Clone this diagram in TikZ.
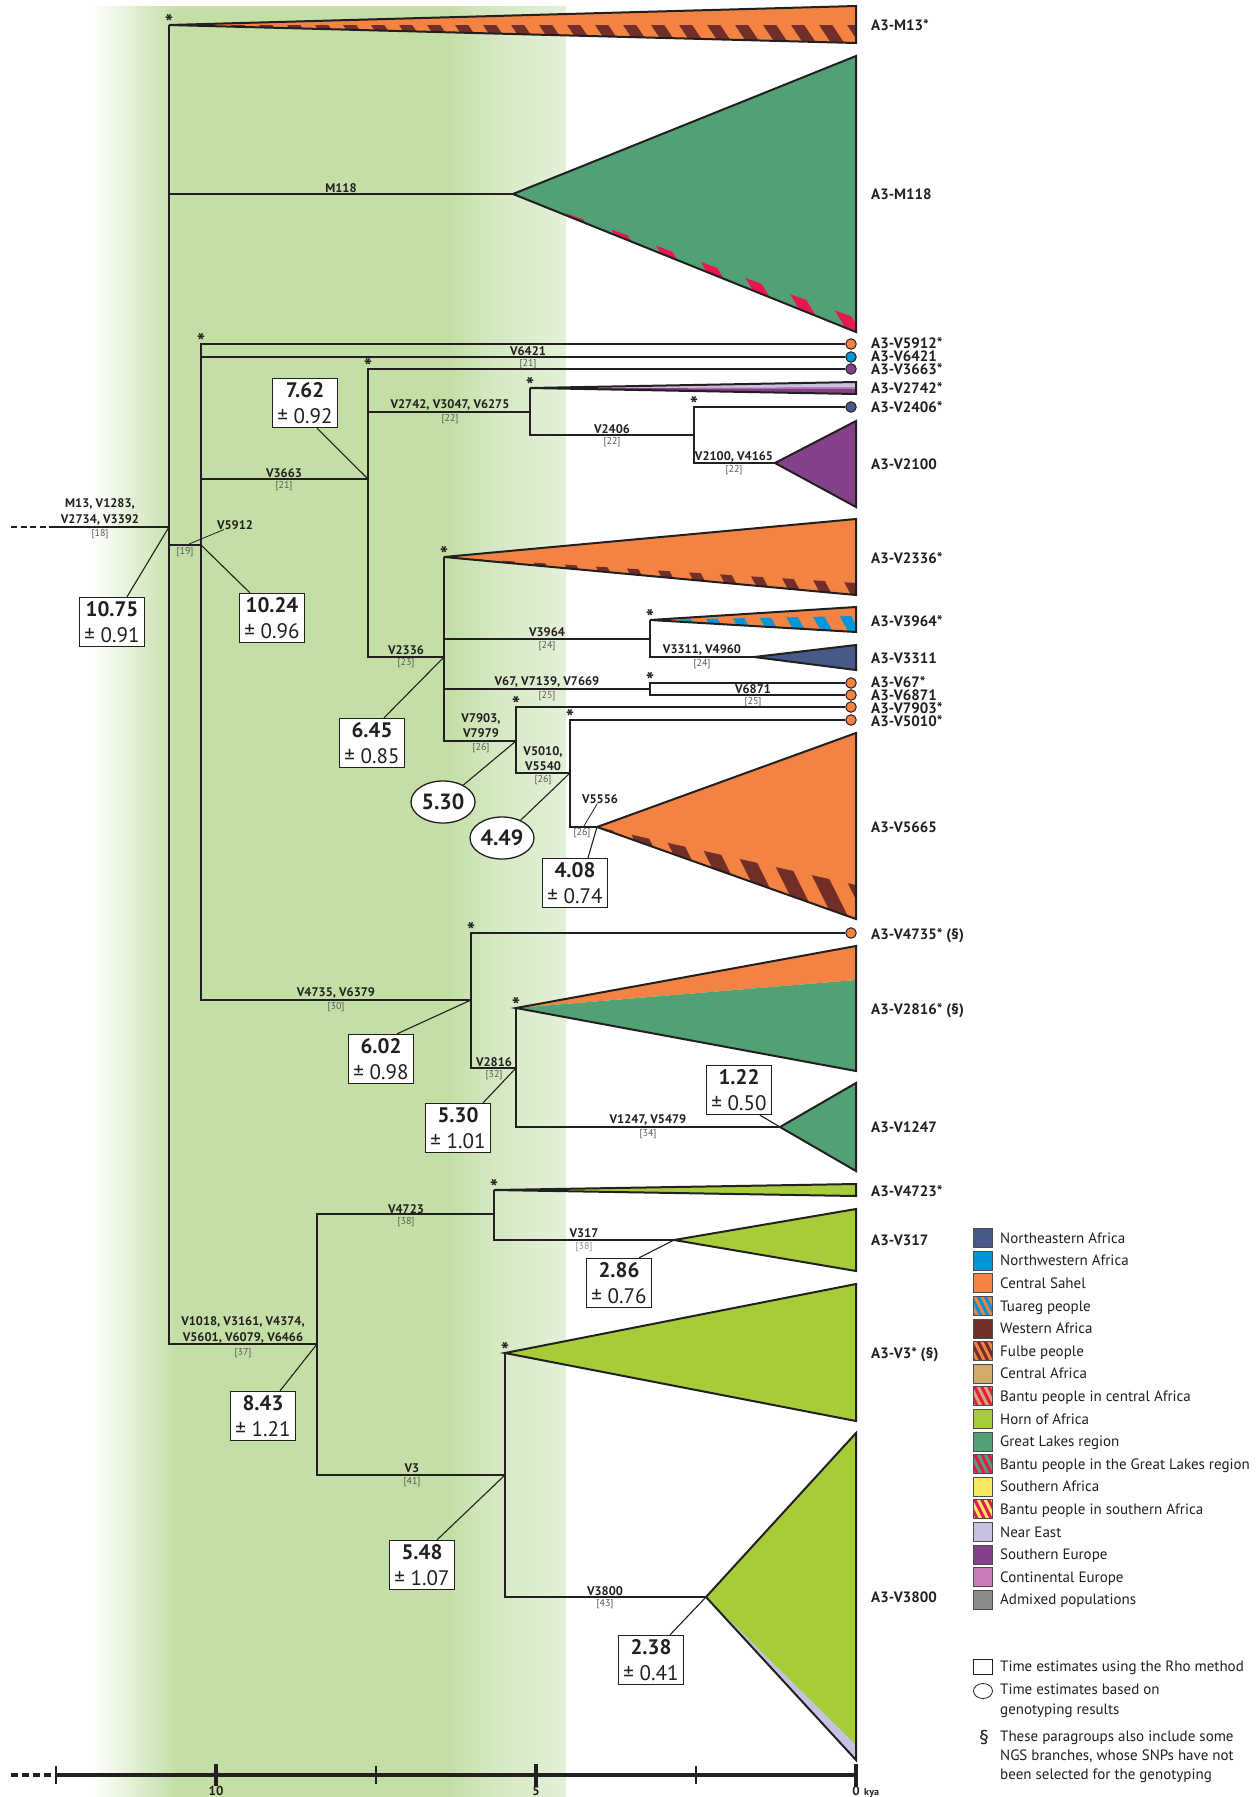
\documentclass[tikz,border=0pt]{standalone}
\usepackage{fontspec}
\setmainfont{PT Sans}
\usetikzlibrary{shapes.geometric,calc}
\definecolor{cne}{RGB}{71,90,135}
\definecolor{cnw}{RGB}{0,149,217}
\definecolor{csahel}{RGB}{243,131,67}
\definecolor{cwest}{RGB}{114,47,42}
\definecolor{ccentral}{RGB}{210,170,106}
\definecolor{cred}{RGB}{232,23,79}
\definecolor{chorn}{RGB}{166,205,57}
\definecolor{clakes}{RGB}{82,161,117}
\definecolor{csouth}{RGB}{248,233,97}
\definecolor{cneareast}{RGB}{197,195,224}
\definecolor{cseur}{RGB}{132,65,138}
\definecolor{cceur}{RGB}{199,124,184}
\definecolor{cadmix}{RGB}{140,140,140}
\definecolor{gfull}{RGB}{195,223,166}
\definecolor{glite1}{RGB}{210,231,190}
\definecolor{glite2}{RGB}{228,241,218}
\definecolor{ink}{RGB}{35,31,32}
\newcommand{\legitem}[4]{%
  \node[legsq, fill=#3] (sq#1) at (982.5,#2) {};
  \node[legtxt] (lt#1) at (1000,#2) {#4};}
\newcommand{\leghatch}[5]{%
  \begin{scope}
    \clip (973,#2-9.5) rectangle (992,#2+9.5);
    \fill[#3] (973,#2-9.5) rectangle (992,#2+9.5);
    \foreach \i in {-4,...,4} \draw[#4, line width=3] ({976+\i*7},#2-14) -- ++(14,28);
  \end{scope}
  \node[legsq] (sq#1) at (982.5,#2) {};
  \node[legtxt] (lt#1) at (1000,#2) {#5};}
\begin{document}
\begin{tikzpicture}[x=1pt,y=-1pt,
  br/.style={draw=ink, line width=2.4},
  outl/.style={draw=ink, line width=2, line join=miter},
  lead/.style={draw=ink, line width=1.1},
  tipdot/.style={circle, draw=ink, line width=1, minimum size=10.5, inner sep=0},
  clab/.style={anchor=west, inner sep=0, font=\bfseries\fontsize{15}{15}\selectfont, text=ink, text height=10.5pt, text depth=0pt},
  blab/.style={inner sep=0, font=\bfseries\fontsize{12.5}{13}\selectfont, text=ink, text height=8.75pt, text depth=0pt},
  refl/.style={inner sep=0, font=\fontsize{10}{10}\selectfont, text=black!65, text height=7pt, text depth=0pt},
  astk/.style={anchor=base, inner sep=0, font=\bfseries\fontsize{22}{22}\selectfont, text=ink},
  datebox/.style={draw=ink, fill=white, line width=1.3, minimum width=65, minimum height=49, inner sep=0, align=center, font=\fontsize{21}{26}\selectfont, text=ink},
  ellbox/.style={ellipse, draw=ink, fill=white, line width=1.3, minimum width=64, minimum height=42, inner sep=0, font=\bfseries\fontsize{22}{22}\selectfont, text=ink},
  legsq/.style={draw=black!70, line width=0.8, minimum size=19, inner sep=0},
  legtxt/.style={anchor=west, inner sep=0, font=\fontsize{15}{15}\selectfont, text=ink, text height=10.5pt, text depth=0pt},
  axlab/.style={anchor=base, inner sep=0, font=\bfseries\fontsize{13}{13}\selectfont, text=ink},
]
\useasboundingbox (0,0) rectangle (1260,1797);
\fill[white] (0,0) rectangle (1260,1797);
% ---------- green background ----------
\shade[left color=white, right color=gfull] (92,6) rectangle (176,1797);
\fill[gfull] (175,6) rectangle (451,1797);
\shade[left color=gfull, right color=glite1] (450,6) rectangle (486,1797);
\shade[left color=glite1, right color=glite2] (485,6) rectangle (566,1797);
% ---------- coordinates ----------
\coordinate (stem0) at (11,527);
\coordinate (stemA) at (54,527);
\coordinate (R) at (169,527);
\coordinate (N19) at (201,545);
\coordinate (N21) at (368,479);
\coordinate (N22) at (530,412);
\coordinate (N22b) at (694,435);
\coordinate (N23) at (444,657);
\coordinate (N24) at (650,639);
\coordinate (N25) at (650,689);
\coordinate (N26) at (516,741);
\coordinate (N26b) at (570,773);
\coordinate (N30) at (471,1000);
\coordinate (N32) at (516,1068);
\coordinate (N37) at (317,1344);
\coordinate (N38) at (494,1214);
\coordinate (N41) at (505,1475);
\coordinate (aM13) at (169,25);
\coordinate (aM118) at (513,194);
\coordinate (aV2742) at (530,388);
\coordinate (aV2100) at (775,463);
\coordinate (aV2336) at (444,557);
\coordinate (aV3964) at (650,620);
\coordinate (aV3311) at (754,657);
\coordinate (aV5665) at (597,827);
\coordinate (aV2816) at (516,1008);
\coordinate (aV1247) at (780,1127);
\coordinate (aV4723) at (494,1190);
\coordinate (aV317) at (674,1240);
\coordinate (aV3) at (505,1353);
\coordinate (aV3800) at (706,1597);
% ---------- triangles ----------
% M13
\fill[csahel] (aM13) -- (856,6) -- (856,43) -- cycle;
\begin{scope}
  \clip (aM13) -- (856,25) -- (856,43) -- cycle;
  \foreach \i in {0,...,25} \draw[cwest, line width=11] ({175+\i*28},15) -- ++(24,36);
\end{scope}
\draw[outl] (aM13) -- (856,6) -- (856,43) -- cycle;
% M118
\fill[clakes] (aM118) -- (856,56) -- (856,332) -- cycle;
\begin{scope}
  \clip (aM118) -- (856,318) -- (856,332) -- cycle;
  \foreach \i in {0,...,16} \draw[cred, line width=11] ({430+\i*35},150) -- ++(120,200);
\end{scope}
\draw[outl] (aM118) -- (856,56) -- (856,332) -- cycle;
% V2742
\fill[cneareast] (aV2742) -- (856,382) -- (856,387) -- cycle;
\fill[cceur] (aV2742) -- (856,387) -- (856,388.5) -- cycle;
\fill[cseur] (aV2742) -- (856,388.5) -- (856,394) -- cycle;
\draw[outl] (aV2742) -- (856,382) -- (856,394) -- cycle;
% V2100
\fill[cseur] (aV2100) -- (856,421) -- (856,507) -- cycle;
\draw[outl] (aV2100) -- (856,421) -- (856,507) -- cycle;
% V2336
\fill[csahel] (aV2336) -- (856,519) -- (856,595) -- cycle;
\begin{scope}
  \clip (aV2336) -- (856,583) -- (856,595) -- cycle;
  \foreach \i in {0,...,15} \draw[cwest, line width=10] ({440+\i*30},545) -- ++(32,60);
\end{scope}
\draw[outl] (aV2336) -- (856,519) -- (856,595) -- cycle;
% V3964
\fill[csahel] (aV3964) -- (856,607) -- (856,632) -- cycle;
\begin{scope}
  \clip (aV3964) -- (856,616) -- (856,632) -- cycle;
  \foreach \i in {0,...,9} \draw[cnw, line width=10] ({650+\i*27},605) -- ++(20,35);
\end{scope}
\draw[outl] (aV3964) -- (856,607) -- (856,632) -- cycle;
% V3311
\fill[cne] (aV3311) -- (856,645) -- (856,670) -- cycle;
\draw[outl] (aV3311) -- (856,645) -- (856,670) -- cycle;
% V5665
\fill[csahel] (aV5665) -- (856,733) -- (856,919) -- cycle;
\begin{scope}
  \clip (aV5665) -- (856,885) -- (856,919) -- cycle;
  \foreach \i in {0,...,9} \draw[cwest, line width=14] ({600+\i*32},820) -- ++(55,110);
\end{scope}
\draw[outl] (aV5665) -- (856,733) -- (856,919) -- cycle;
% V2816
\fill[csahel] (aV2816) -- (856,946) -- (856,980) -- cycle;
\fill[clakes] (aV2816) -- (856,980) -- (856,1071) -- cycle;
\draw[outl] (aV2816) -- (856,946) -- (856,1071) -- cycle;
% V1247
\fill[clakes] (aV1247) -- (856,1083) -- (856,1171) -- cycle;
\draw[outl] (aV1247) -- (856,1083) -- (856,1171) -- cycle;
% V4723
\fill[chorn] (aV4723) -- (856,1184) -- (856,1196) -- cycle;
\draw[outl] (aV4723) -- (856,1184) -- (856,1196) -- cycle;
% V317
\fill[chorn] (aV317) -- (856,1209) -- (856,1271) -- cycle;
\draw[outl] (aV317) -- (856,1209) -- (856,1271) -- cycle;
% V3
\fill[chorn] (aV3) -- (856,1284) -- (856,1421) -- cycle;
\draw[outl] (aV3) -- (856,1284) -- (856,1421) -- cycle;
% V3800
\fill[chorn] (aV3800) -- (856,1433) -- (856,1760) -- cycle;
\fill[cneareast] (aV3800) -- (856,1745) -- (856,1760) -- cycle;
\draw[outl] (aV3800) -- (856,1433) -- (856,1760) -- cycle;
% ---------- tip circles ----------
\node[tipdot, fill=csahel] (tV5912) at (851,344) {};
\node[tipdot, fill=cnw] (tV6421) at (851,357) {};
\node[tipdot, fill=cseur] (tV3663) at (851,369) {};
\node[tipdot, fill=cne] (tV2406) at (851,407) {};
\node[tipdot, fill=csahel] (tV67) at (851,683) {};
\node[tipdot, fill=csahel] (tV6871) at (851,695) {};
\node[tipdot, fill=csahel] (tV7903) at (851,707) {};
\node[tipdot, fill=csahel] (tV5010) at (851,720) {};
\node[tipdot, fill=csahel] (tV4735) at (851,933) {};
% ---------- branches ----------
\draw[br, dash pattern=on 6 off 3.5] (stem0) -- (stemA);
\draw[br] (stemA) -- (R);
\draw[br] (R) |- (aM13);
\draw[br] (R) |- (aM118);
\draw[br] (R) |- (N19);
\draw[br] (R) |- (N37);
\draw[br] (N19) |- (tV5912);
\draw[br] (N19) |- (tV6421);
\draw[br] (N19) |- (N21);
\draw[br] (N19) |- (N30);
\draw[br] (N21) |- (tV3663);
\draw[br] (N21) |- (N22);
\draw[br] (N21) |- (N23);
\draw[br] (N22) |- (aV2742);
\draw[br] (N22) |- (N22b);
\draw[br] (N22b) |- (tV2406);
\draw[br] (N22b) |- (aV2100);
\draw[br] (N23) |- (aV2336);
\draw[br] (N23) |- (N24);
\draw[br] (N23) |- (N25);
\draw[br] (N23) |- (N26);
\draw[br] (N24) |- (aV3964);
\draw[br] (N24) |- (aV3311);
\draw[br] (N25) |- (tV67);
\draw[br] (N25) |- (tV6871);
\draw[br] (N26) |- (tV7903);
\draw[br] (N26) |- (N26b);
\draw[br] (N26b) |- (tV5010);
\draw[br] (N26b) |- (aV5665);
\draw[br] (N30) |- (tV4735);
\draw[br] (N30) |- (N32);
\draw[br] (N32) |- (aV2816);
\draw[br] (N32) |- (aV1247);
\draw[br] (N37) |- (N38);
\draw[br] (N37) |- (N41);
\draw[br] (N38) |- (aV4723);
\draw[br] (N38) |- (aV317);
\draw[br] (N41) |- (aV3);
\draw[br] (N41) |- (aV3800);
% ---------- asterisks ----------
\node[astk] (s1) at (169,30) {*};
\node[astk] (s2) at (201,349) {*};
\node[astk] (s3) at (368,374) {*};
\node[astk] (s4) at (530,393) {*};
\node[astk] (s5) at (694,412) {*};
\node[astk] (s6) at (444,562) {*};
\node[astk] (s7) at (650,625) {*};
\node[astk] (s8) at (650,688) {*};
\node[astk] (s9) at (516,712) {*};
\node[astk] (s10) at (570,725) {*};
\node[astk] (s11) at (471,938) {*};
\node[astk] (s12) at (516,1013) {*};
\node[astk] (s13) at (494,1195) {*};
\node[astk] (s14) at (505,1358) {*};
% ---------- branch labels ----------
\node[blab] (lbRa) at (100,503) {M13, V1283,};
\node[blab] (lbRb) at (100,519) {V2734, V3392};
\node[refl] (rfR) at (100,533) {[18]};
\node[blab] (lbV5912) at (235,525) {V5912};
\node[refl] (rfV5912) at (185,551) {[19]};
\coordinate (v5912a) at (189,544);
\draw[lead, line width=0.8] (v5912a) -- (lbV5912);
\node[blab] (lbM118) at (341,188) {M118};
\node[blab] (lbV6421) at (528,351) {V6421};
\node[refl] (rfV6421) at (528,363) {[21]};
\node[blab] (lbV3663) at (284,473) {V3663};
\node[refl] (rfV3663) at (284,485) {[21]};
\node[blab] (lbV2742) at (450,404) {V2742, V3047, V6275};
\node[refl] (rfV2742) at (450,418) {[22]};
\node[blab] (lbV2406) at (612,429) {V2406};
\node[refl] (rfV2406) at (612,441) {[22]};
\node[blab] (lbV2100) at (734,456) {V2100, V4165};
\node[refl] (rfV2100) at (734,469) {[22]};
\node[blab] (lbV2336) at (406,650) {V2336};
\node[refl] (rfV2336) at (406,662) {[23]};
\node[blab] (lbV3964) at (547,632) {V3964};
\node[refl] (rfV3964) at (547,645) {[24]};
\node[blab] (lbV3311) at (702,649) {V3311, V4960};
\node[refl] (rfV3311) at (702,663) {[24]};
\node[blab] (lbV67) at (547,681) {V67, V7139, V7669};
\node[refl] (rfV67) at (547,695) {[25]};
\node[blab] (lbV6871) at (753,689) {V6871};
\node[refl] (rfV6871) at (753,701) {[25]};
\node[blab] (lbV7903a) at (481,718) {V7903,};
\node[blab] (lbV7903b) at (481,733) {V7979};
\node[refl] (rfV7903) at (481,747) {[26]};
\node[blab] (lbV5010a) at (543,751) {V5010,};
\node[blab] (lbV5010b) at (543,766) {V5540};
\node[refl] (rfV5010) at (543,779) {[26]};
\node[blab] (lbV5556) at (600,799) {V5556};
\node[refl] (rfV5556) at (582,832) {[26]};
\coordinate (v5556a) at (584,826);
\draw[lead, line width=0.8] (lbV5556) -- (v5556a);
\node[blab] (lbV4735) at (336,992) {V4735, V6379};
\node[refl] (rfV4735) at (336,1006) {[30]};
\node[blab] (lbV2816) at (494,1062) {V2816};
\node[refl] (rfV2816) at (494,1074) {[32]};
\node[blab] (lbV1247) at (648,1119) {V1247, V5479};
\node[refl] (rfV1247) at (648,1133) {[34]};
\node[blab] (lbV1018a) at (243,1321) {V1018, V3161, V4374,};
\node[blab] (lbV1018b) at (243,1337) {V5601, V6079, V6466};
\node[refl] (rfV1018) at (243,1352) {[37]};
\node[blab] (lbV4723) at (406,1209) {V4723};
\node[refl] (rfV4723) at (406,1221) {[38]};
\node[blab] (lbV317) at (584,1233) {V317};
\node[refl, text=black!45] (rfV317) at (584,1246) {[38]};
\node[blab] (lbV3) at (412,1468) {V3};
\node[refl] (rfV3) at (412,1481) {[41]};
\node[blab] (lbV3800) at (605,1591) {V3800};
\node[refl] (rfV3800) at (605,1603) {[43]};
% ---------- date boxes ----------
\node[datebox] (b1075) at (112,622) {{\bfseries 10.75}\\± 0.91};
\node[datebox] (b1024) at (272,618) {{\bfseries 10.24}\\± 0.96};
\node[datebox] (b762) at (305,403) {{\bfseries 7.62}\\± 0.92};
\node[datebox] (b645) at (372,743) {{\bfseries 6.45}\\± 0.85};
\node[ellbox] (e530) at (443,802) {5.30};
\node[ellbox] (e449) at (502,838) {4.49};
\node[datebox] (b408) at (575,883) {{\bfseries 4.08}\\± 0.74};
\node[datebox] (b602) at (381,1059) {{\bfseries 6.02}\\± 0.98};
\node[datebox] (b530) at (458,1128) {{\bfseries 5.30}\\± 1.01};
\node[datebox] (b122) at (739,1090) {{\bfseries 1.22}\\± 0.50};
\node[datebox] (b286) at (619,1283) {{\bfseries 2.86}\\± 0.76};
\node[datebox] (b843) at (263,1416) {{\bfseries 8.43}\\± 1.21};
\node[datebox] (b548) at (422,1565) {{\bfseries 5.48}\\± 1.07};
\node[datebox] (b238) at (651,1660) {{\bfseries 2.38}\\± 0.41};
\draw[lead] ($(b1075.north)+(15,0)$) -- (R);
\draw[lead] ($(b1024.north)+(-22,0)$) -- (N19);
\draw[lead] ($(b762.south)+(12,0)$) -- (N21);
\draw[lead] ($(b645.north)+(12,0)$) -- (N23);
\draw[lead] (e530) -- (N26);
\draw[lead] (e449) -- (N26b);
\draw[lead] ($(b408.north)+(13,0)$) -- (aV5665);
\draw[lead] ($(b602.north)+(16,0)$) -- (N30);
\draw[lead] ($(b530.north)+(25,0)$) -- (N32);
\draw[lead] ($(b122.south)+(21,0)$) -- (aV1247);
\draw[lead] ($(b286.north)+(20,0)$) -- (aV317);
\draw[lead] ($(b843.north)+(17,0)$) -- (N37);
\draw[lead] ($(b548.north)+(15,0)$) -- (N41);
\draw[lead] ($(b238.north)+(19,0)$) -- (aV3800);
% ---------- clade labels ----------
\node[clab] (lM13) at (871,25) {A3-M13*};
\node[clab] (lM118) at (871,194) {A3-M118};
\node[clab] (lV5912) at (871,343) {A3-V5912*};
\node[clab] (lV6421) at (871,356) {A3-V6421};
\node[clab] (lV3663) at (871,369) {A3-V3663*};
\node[clab] (lV2742) at (871,388) {A3-V2742*};
\node[clab] (lV2406) at (871,407) {A3-V2406*};
\node[clab] (lV2100) at (871,464) {A3-V2100};
\node[clab] (lV2336) at (871,558) {A3-V2336*};
\node[clab] (lV3964) at (871,621) {A3-V3964*};
\node[clab] (lV3311) at (871,658) {A3-V3311};
\node[clab] (lV67) at (871,682) {A3-V67*};
\node[clab] (lV6871) at (871,695) {A3-V6871};
\node[clab] (lV7903) at (871,708) {A3-V7903*};
\node[clab] (lV5010) at (871,721) {A3-V5010*};
\node[clab] (lV5665) at (871,827) {A3-V5665};
\node[clab] (lV4735) at (871,934) {A3-V4735* (§)};
\node[clab] (lV2816) at (871,1009) {A3-V2816* (§)};
\node[clab] (lV1247) at (871,1127) {A3-V1247};
\node[clab] (lV4723) at (871,1191) {A3-V4723*};
\node[clab] (lV317) at (871,1240) {A3-V317};
\node[clab] (lV3) at (871,1353) {A3-V3* (§)};
\node[clab] (lV3800) at (871,1597) {A3-V3800};
% ---------- legend ----------
\legitem{a}{1238}{cne}{Northeastern Africa}
\legitem{b}{1260.6}{cnw}{Northwestern Africa}
\legitem{c}{1283.2}{csahel}{Central Sahel}
\leghatch{d}{1305.8}{csahel}{cnw}{Tuareg people}
\legitem{e}{1328.4}{cwest}{Western Africa}
\leghatch{f}{1351}{csahel}{cwest}{Fulbe people}
\legitem{g}{1373.6}{ccentral}{Central Africa}
\leghatch{h}{1396.2}{cred}{ccentral}{Bantu people in central Africa}
\legitem{i}{1418.8}{chorn}{Horn of Africa}
\legitem{j}{1441.4}{clakes}{Great Lakes region}
\leghatch{k}{1464}{cred}{clakes}{Bantu people in the Great Lakes region}
\legitem{l}{1486.6}{csouth}{Southern Africa}
\leghatch{m}{1509.2}{cred}{csouth}{Bantu people in southern Africa}
\legitem{n}{1531.8}{cneareast}{Near East}
\legitem{o}{1554.4}{cseur}{Southern Europe}
\legitem{p}{1577}{cceur}{Continental Europe}
\legitem{q}{1599.6}{cadmix}{Admixed populations}
\node[draw=ink, line width=0.8, minimum width=19, minimum height=15, inner sep=0] (legrect) at (983,1667) {};
\node[legtxt] (legrectt) at (1000,1666) {Time estimates using the Rho method};
\node[ellipse, draw=ink, line width=0.8, minimum width=19, minimum height=15, inner sep=0] (legell) at (983,1691) {};
\node[legtxt] (legellt1) at (1000,1689) {Time estimates based on};
\node[legtxt] (legellt2) at (1000,1709) {genotyping results};
\node[inner sep=0, font=\fontsize{20}{20}\selectfont, text=ink] (legsec) at (984,1737) {§};
\node[legtxt] (legsect1) at (1000,1736) {These paragroups also include some};
\node[legtxt] (legsect2) at (1000,1755) {NGS branches, whose SNPs have not};
\node[legtxt] (legsect3) at (1000,1774) {been selected for the genotyping};
% ---------- time axis ----------
\coordinate (ax0) at (11,1775);
\coordinate (ax1) at (56,1775);
\coordinate (ax2) at (856,1775);
\draw[draw=ink, line width=3.5, dash pattern=on 7 off 4] (ax0) -- (ax1);
\draw[draw=ink, line width=3.5] (ax1) -- (ax2);
\foreach \x in {56,376,696} \draw[draw=ink, line width=2.5] (\x,1766) -- (\x,1784);
\foreach \x in {216,536,856} \draw[draw=ink, line width=3.5] (\x,1764) -- (\x,1786);
\node[axlab] (t10) at (216,1795.5) {10};
\node[axlab] (t5) at (536,1795.5) {5};
\node[axlab] (t0) at (856,1795.5) {0};
\node[axlab, anchor=base west, font=\bfseries\fontsize{10}{10}\selectfont] (tkya) at (864,1795.5) {kya};
\end{tikzpicture}
\end{document}
